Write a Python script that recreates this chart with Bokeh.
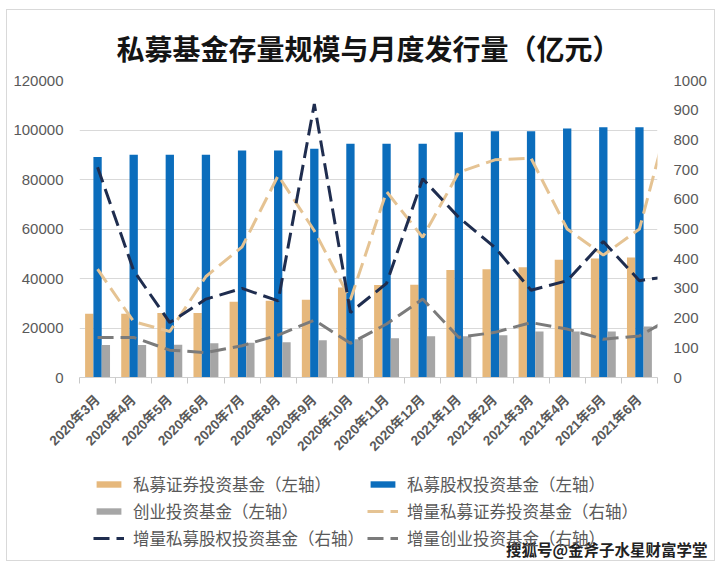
import math
from bokeh.plotting import figure
from bokeh.layouts import column
from bokeh.models import (Range1d, LinearAxis, FixedTicker, Legend, LegendItem,
                          Label, NumeralTickFormatter)
from bokeh.embed import file_html
from bokeh.resources import INLINE

# ---------------- data ----------------
months = ["2020年3月", "2020年4月", "2020年5月", "2020年6月", "2020年7月", "2020年8月",
          "2020年9月", "2020年10月", "2020年11月", "2020年12月", "2021年1月", "2021年2月",
          "2021年3月", "2021年4月", "2021年5月", "2021年6月"]
# stock (left axis, 亿元)
sec_stock = [25800, 25800, 26100, 26100, 30600, 31000, 31400, 36400, 37400, 37500,
             43400, 43700, 44500, 47600, 48100, 48500]
eq_stock = [89100, 90000, 90000, 90000, 91700, 91700, 92400, 94400, 94400, 94400,
            99100, 99500, 99500, 100600, 101100, 101100]
vc_stock = [13100, 13100, 13200, 13800, 14000, 14200, 15100, 15500, 15900, 16700,
            16700, 17100, 18600, 18600, 18600, 20600]
# monthly increment (right axis, 亿元); the last value belongs to the next month
# and is only partly visible at the right edge of the chart
line_months = months + ["2021年7月"]
sec_inc = [365, 188, 155, 340, 440, 680, 494, 262, 626, 472, 691, 733, 738, 500, 412, 500, 960]
eq_inc = [708, 360, 185, 264, 300, 258, 921, 219, 317, 669, 539, 438, 294, 326, 458, 326, 344]
vc_inc = [135, 135, 92, 84, 107, 143, 193, 115, 180, 264, 135, 152, 185, 163, 129, 140, 208]

left_ticks = [0, 20000, 40000, 60000, 80000, 100000, 120000]
right_ticks = [0, 100, 200, 300, 400, 500, 600, 700, 800, 900, 1000]

series_names = ["私募证券投资基金（左轴）", "私募股权投资基金（左轴）", "创业投资基金（左轴）",
                "增量私募证券投资基金（右轴）", "增量私募股权投资基金（右轴）", "增量创业投资基金（右轴）"]
title_text = "私募基金存量规模与月度发行量（亿元）"
watermark = "搜狐号@金斧子水星财富学堂"

# ---------------- styles ----------------
C_SEC = "#E6B87C"
C_EQ = "#0B6DBC"
C_VC = "#A6A6A6"
C_SEC_L = "#E5C393"
C_EQ_L = "#1F2D4F"
C_VC_L = "#7B7B7B"
TXT = "#595959"
NUM_FONT = "Liberation Sans, Noto Sans CJK SC"
CJK_FONT = "Noto Sans CJK SC"
DASH = "16 7"

n = len(months)
idx = list(range(n))
lidx = list(range(len(line_months)))
bw = 0.23
W = 707

# ================= main chart =================
p = figure(width=W, height=458, output_backend="svg", toolbar_location=None,
           x_range=Range1d(-0.5, n - 0.5), y_range=Range1d(left_ticks[0], left_ticks[-1]),
           min_border_left=72, min_border_right=57, min_border_top=70, min_border_bottom=91)
p.frame_align = False
p.outline_line_color = None
p.background_fill_color = "white"
p.border_fill_color = "white"
p.extra_y_ranges = {"r": Range1d(right_ticks[0], right_ticks[-1])}

p.title.text = title_text
p.title.align = "center"
p.title.offset = -8
p.title.standoff = 26
p.title.text_font = CJK_FONT
p.title.text_font_style = "bold"
p.title.text_font_size = "28px"
p.title.text_color = "#141414"

p.xgrid.visible = False
p.ygrid.ticker = FixedTicker(ticks=left_ticks)
p.ygrid.grid_line_color = "#d9d9d9"
p.ygrid.grid_line_width = 1

p.vbar(x=[i - bw for i in idx], top=sec_stock, width=bw, fill_color=C_SEC, line_color=None)
p.vbar(x=idx, top=eq_stock, width=bw, fill_color=C_EQ, line_color=None)
p.vbar(x=[i + bw for i in idx], top=vc_stock, width=bw, fill_color=C_VC, line_color=None)

p.line(lidx, sec_inc, y_range_name="r", line_color=C_SEC_L, line_width=3, line_dash=DASH)
p.line(lidx, eq_inc, y_range_name="r", line_color=C_EQ_L, line_width=3, line_dash=DASH)
p.line(lidx, vc_inc, y_range_name="r", line_color=C_VC_L, line_width=3, line_dash=DASH)

ya = p.yaxis[0]
ya.ticker = FixedTicker(ticks=left_ticks)
ya.formatter = NumeralTickFormatter(format="0")
ya.axis_line_color = None
ya.major_tick_line_color = None
ya.minor_tick_line_color = None
ya.major_label_text_font = NUM_FONT
ya.major_label_text_font_size = "15px"
ya.major_label_text_color = TXT
ya.major_label_standoff = 10

ra = LinearAxis(y_range_name="r", ticker=FixedTicker(ticks=right_ticks))
ra.axis_line_color = None
ra.major_tick_line_color = None
ra.minor_tick_line_color = None
ra.major_label_text_font = NUM_FONT
ra.major_label_text_font_size = "15px"
ra.major_label_text_color = TXT
ra.major_label_standoff = 10
p.add_layout(ra, "right")

xa = p.xaxis[0]
xa.ticker = FixedTicker(ticks=idx, minor_ticks=[i - 0.5 for i in range(n + 1)])
xa.major_label_overrides = {i: m for i, m in enumerate(months)}
xa.axis_line_color = "#d0d0d0"
xa.major_tick_line_color = None
xa.minor_tick_line_color = "#c8c8c8"
xa.minor_tick_out = 6
xa.minor_tick_in = 0
xa.major_label_orientation = math.pi / 4
xa.major_label_text_font = NUM_FONT
xa.major_label_text_font_style = "bold"
xa.major_label_text_font_size = "13.5px"
xa.major_label_text_color = TXT
xa.major_label_standoff = 14

# ================= legend strip =================
LH = 92
q = figure(width=W, height=LH, output_backend="svg", toolbar_location=None,
           x_range=Range1d(0, W), y_range=Range1d(0, LH),
           x_axis_type=None, y_axis_type=None,
           min_border_left=0, min_border_right=0, min_border_top=0, min_border_bottom=0)
q.frame_align = False
q.outline_line_color = None
q.grid.visible = False
q.background_fill_color = "white"
q.border_fill_color = "white"

# legend keys: renderers that carry the series styles but draw nothing (NaN values)
nan = float("nan")
k1 = q.vbar(x=[nan], top=[nan], width=1, fill_color=C_SEC, line_color=None)
k2 = q.vbar(x=[nan], top=[nan], width=1, fill_color=C_EQ, line_color=None)
k3 = q.vbar(x=[nan], top=[nan], width=1, fill_color=C_VC, line_color=None)
k4 = q.line(x=[nan], y=[nan], line_color=C_SEC_L, line_width=3, line_dash=DASH)
k5 = q.line(x=[nan], y=[nan], line_color=C_EQ_L, line_width=3, line_dash=DASH)
k6 = q.line(x=[nan], y=[nan], line_color=C_VC_L, line_width=3, line_dash=DASH)
keys = [k1, k2, k3, k4, k5, k6]

legend = Legend(items=[LegendItem(label=nm, renderers=[k]) for nm, k in zip(series_names, keys)],
                orientation="horizontal", ncols=2, location=(86, 10))
legend.padding = 0
legend.margin = 0
legend.spacing = 3
legend.border_line_color = None
legend.background_fill_alpha = 0
legend.glyph_width = 31
legend.glyph_height = 8
legend.label_height = 19
legend.label_standoff = 9
legend.label_text_font = CJK_FONT
legend.label_text_font_size = "16.5px"
legend.label_text_color = TXT
q.add_layout(legend, "center")

q.add_layout(Label(x=700, y=12, x_units="screen", y_units="screen", text=watermark,
                   text_align="right", text_baseline="middle", text_font=CJK_FONT,
                   text_font_style="bold", text_font_size="15.5px", text_color="#222222"))

layout = column(p, q, spacing=0,
                styles={"border": "1px solid #d9d9d9", "margin-left": "6px", "margin-top": "9px"})

open("out.html", "w").write(file_html(layout, INLINE))
